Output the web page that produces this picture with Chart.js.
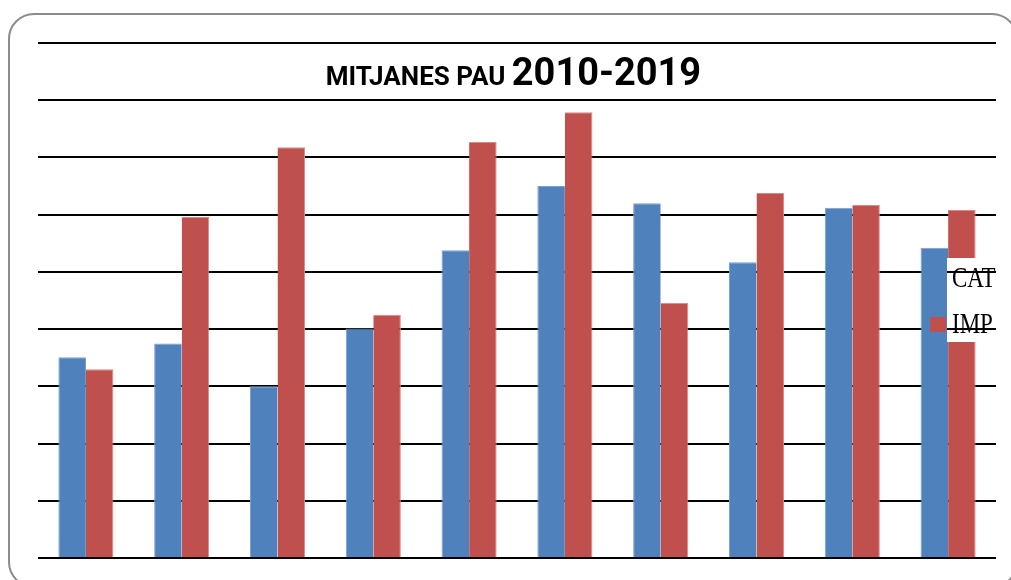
<!DOCTYPE html>
<html>
<head>
<meta charset="utf-8">
<script src="https://cdn.jsdelivr.net/npm/chart.js@4/dist/chart.umd.min.js"></script>
<style>
  html, body { margin: 0; padding: 0; background: #ffffff; }
  #wrap { position: relative; width: 1011px; height: 580px; overflow: hidden; }
  #c { position: absolute; left: 0; top: 0; }
  #frame { position: absolute; left: 8px; top: 13px; width: 1010px; height: 575px;
           border: 2px solid #8c8c8c; border-radius: 26px; box-sizing: border-box; pointer-events: none; }
  #title { position: absolute; left: 0; width: 1027px; top: 50px; text-align: center;
           font-family: Roboto, "Liberation Sans", sans-serif; font-weight: bold; color: #000;
           line-height: 44px; white-space: nowrap; }
  #title .small { font-size: 26px; }
  #title .big { font-size: 38px; }
</style>
</head>
<body>
<div id="wrap">
  <canvas id="c" width="1011" height="580"></canvas>
  <div id="title"><span class="small">MITJANES PAU </span><span class="big">2010-2019</span></div>
  <div id="frame"></div>
</div>
<script>
const categories = ["2010", "2011", "2012", "2013", "2014", "2015", "2016", "2017", "2018", "2019"];
const seriesNames = ["CAT", "IMP"];
const catValues = [3.51, 3.75, 3.00, 4.01, 5.38, 6.50, 6.20, 5.17, 6.12, 5.42];
const impValues = [3.30, 5.96, 7.18, 4.25, 7.27, 7.79, 4.46, 6.38, 6.17, 6.08];
const seriesColors = ["#4F81BD", "#C0504D"];
const axisMin = 0, axisMax = 9, axisStep = 1;

const legendPlugin = {
  id: 'excelLegend',
  afterDatasetsDraw(chart) {
    const ctx = chart.ctx;
    const y = chart.scales.y;
    const area = chart.chartArea;
    ctx.save();
    ctx.fillStyle = '#ffffff';
    ctx.fillRect(947, 258, 60, 84);
    ctx.strokeStyle = '#000000';
    ctx.lineWidth = 2;
    for (let v = axisMin; v <= axisMax; v += axisStep) {
      const py = Math.round(y.getPixelForValue(v));
      if (py > 258 && py < 342) {
        ctx.beginPath();
        ctx.moveTo(947, py);
        ctx.lineTo(area.right, py);
        ctx.stroke();
      }
    }
    const rows = [{name: seriesNames[0], color: seriesColors[0], base: 287},
                  {name: seriesNames[1], color: seriesColors[1], base: 333}];
    rows.forEach(r => {
      ctx.fillStyle = r.color;
      ctx.fillRect(930, r.base - 16, 16, 15);
      ctx.save();
      ctx.translate(952, r.base);
      ctx.scale(1, 1.25);
      ctx.fillStyle = '#000000';
      ctx.font = '23px "Liberation Serif", "DejaVu Serif", serif';
      ctx.textBaseline = 'alphabetic';
      ctx.fillText(r.name, 0, 0);
      ctx.restore();
    });
    ctx.restore();
  }
};

new Chart(document.getElementById('c'), {
  type: 'bar',
  data: {
    labels: categories,
    datasets: [
      { label: seriesNames[0], data: catValues, backgroundColor: seriesColors[0],
        borderColor: '#7aa0cf', borderWidth: {left: 1, right: 0, top: 1, bottom: 0} },
      { label: seriesNames[1], data: impValues, backgroundColor: seriesColors[1],
        borderColor: '#d98a88', borderWidth: {left: 0, right: 1, top: 1, bottom: 0} }
    ]
  },
  options: {
    responsive: false,
    animation: false,
    events: [],
    layout: { padding: { left: 38, top: 43, right: 15, bottom: 22 } },
    datasets: { bar: { categoryPercentage: 0.575, barPercentage: 1.0 } },
    plugins: { legend: { display: false }, title: { display: false }, tooltip: { enabled: false } },
    scales: {
      x: { display: false, grid: { display: false } },
      y: {
        display: true,
        min: axisMin, max: axisMax,
        ticks: { display: false, stepSize: axisStep },
        border: { display: false },
        grid: { color: '#000000', lineWidth: 2, drawTicks: false, tickLength: 0 }
      }
    }
  },
  plugins: [legendPlugin]
});
</script>
</body>
</html>
